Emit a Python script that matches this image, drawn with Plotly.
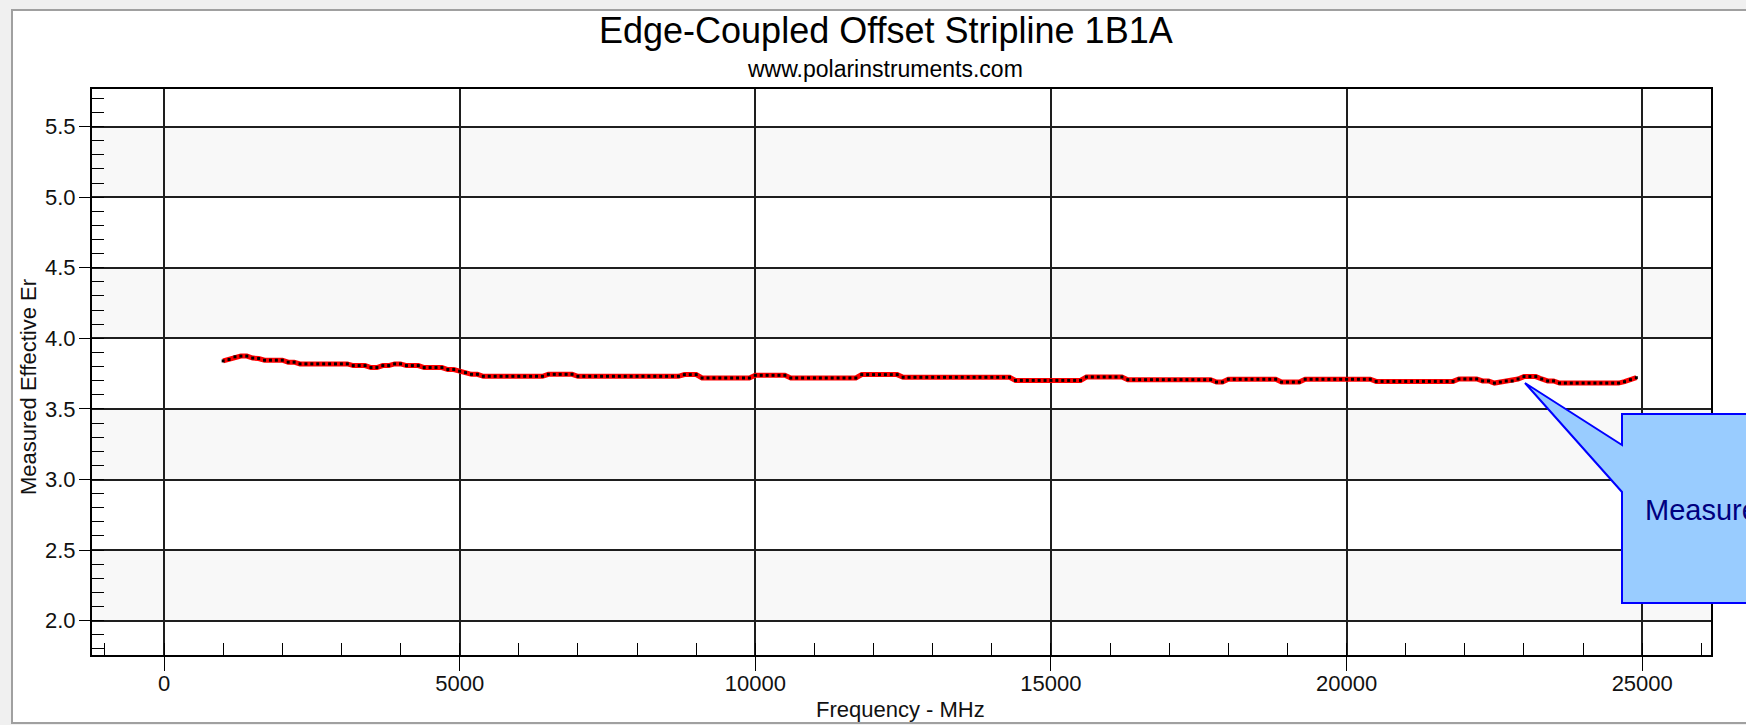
import plotly.graph_objects as go

# ---------------- data ----------------
freq_mhz = list(range(1000, 25000, 100))  # measurement sweep points (1000 .. 24900 MHz)

er_eff = [
    3.840, 3.850, 3.869, 3.874, 3.874, 3.860, 3.857, 3.845, 3.845, 3.845,   # 1000-1900
    3.845, 3.831, 3.831, 3.819, 3.819, 3.819, 3.819, 3.819, 3.819, 3.819,   # 2000-2900
    3.819, 3.819, 3.807, 3.807, 3.807, 3.793, 3.793, 3.807, 3.807, 3.819,   # 3000-3900
    3.819, 3.807, 3.807, 3.807, 3.793, 3.793, 3.793, 3.793, 3.779, 3.779,   # 4000-4900
    3.767, 3.757, 3.745, 3.745, 3.731, 3.731, 3.731, 3.731, 3.731, 3.731,   # 5000-5900
    3.731, 3.731, 3.731, 3.731, 3.731, 3.745, 3.745, 3.745, 3.745, 3.745,   # 6000-6900
    3.731, 3.731, 3.731, 3.731, 3.731, 3.731, 3.731, 3.731, 3.731, 3.731,   # 7000-7900
    3.731, 3.731, 3.731, 3.731, 3.731, 3.731, 3.731, 3.731, 3.743, 3.743,   # 8000-8900
    3.743, 3.719, 3.719, 3.719, 3.719, 3.719, 3.719, 3.719, 3.719, 3.719,   # 9000-9900
    3.738, 3.738, 3.738, 3.738, 3.738, 3.738, 3.719, 3.719, 3.719, 3.719,   # 10000-10900
    3.719, 3.719, 3.719, 3.719, 3.719, 3.719, 3.719, 3.719, 3.743, 3.743,   # 11000-11900
    3.743, 3.743, 3.743, 3.743, 3.743, 3.724, 3.724, 3.724, 3.724, 3.724,   # 12000-12900
    3.724, 3.724, 3.724, 3.724, 3.724, 3.724, 3.724, 3.724, 3.724, 3.724,   # 13000-13900
    3.724, 3.724, 3.724, 3.724, 3.702, 3.702, 3.702, 3.702, 3.702, 3.702,   # 14000-14900
    3.702, 3.702, 3.702, 3.702, 3.702, 3.702, 3.726, 3.726, 3.726, 3.726,   # 15000-15900
    3.726, 3.726, 3.726, 3.707, 3.707, 3.707, 3.707, 3.707, 3.707, 3.707,   # 16000-16900
    3.707, 3.707, 3.707, 3.707, 3.707, 3.707, 3.707, 3.707, 3.690, 3.690,   # 17000-17900
    3.710, 3.710, 3.710, 3.710, 3.710, 3.710, 3.710, 3.710, 3.710, 3.690,   # 18000-18900
    3.690, 3.690, 3.690, 3.710, 3.710, 3.710, 3.710, 3.710, 3.710, 3.710,   # 19000-19900
    3.710, 3.710, 3.710, 3.710, 3.710, 3.695, 3.695, 3.695, 3.695, 3.695,   # 20000-20900
    3.695, 3.695, 3.695, 3.695, 3.695, 3.695, 3.695, 3.695, 3.695, 3.712,   # 21000-21900
    3.712, 3.712, 3.712, 3.698, 3.698, 3.683, 3.690, 3.698, 3.698, 3.712,   # 22000-22900
    3.729, 3.729, 3.729, 3.712, 3.698, 3.698, 3.683, 3.683, 3.683, 3.683,   # 23000-23900
    3.683, 3.683, 3.683, 3.683, 3.683, 3.683, 3.683, 3.693, 3.707, 3.721,   # 24000-24900
]

x_range = [-1218, 26163]
y_range = [1.757, 5.766]
band_ranges = [(2.0, 2.5), (3.0, 3.5), (4.0, 4.5), (5.0, 5.5)]

title_text = "Edge-Coupled Offset Stripline 1B1A"
subtitle_text = "www.polarinstruments.com"
x_title = "Frequency - MHz"
y_title = "Measured Effective Er"
callout_text = "Measured Effective Er"

# ---------------- layout geometry (pixels) ----------------
W, H = 1746, 725
PL, PR, PT, PB = 92, 1711, 89, 655   # plot area edges


def px(x):
    return (x - PL) / (PR - PL)


def py(y):
    return (PB - y) / (PB - PT)


FONT = "Liberation Sans, Arial, sans-serif"

fig = go.Figure()
fig.add_trace(go.Scatter(
    x=freq_mhz, y=er_eff, mode="lines+markers",
    line=dict(color="#ff0000", width=5),
    marker=dict(symbol="square", size=3, color="black", line=dict(width=0)),
    hoverinfo="x+y", showlegend=False,
))

shapes = []
# outer white panel with grey frame
shapes.append(dict(type="rect", xref="paper", yref="paper",
                   x0=px(12), x1=px(1762), y0=py(723), y1=py(10),
                   fillcolor="white", line=dict(color="#a0a0a0", width=2),
                   layer="below"))
# alternating light grey bands
for lo, hi in band_ranges:
    shapes.append(dict(type="rect", xref="x", yref="y",
                       x0=x_range[0], x1=x_range[1], y0=lo, y1=hi,
                       fillcolor="#f8f8f8", line=dict(width=0), layer="below"))

# callout box with pointer
tip = (1525, 383)
bx0, bx1, by0, by1 = 1622, 1800, 414, 603
pu, pl_ = 445, 492
pts = [tip, (bx0, pu), (bx0, by0), (bx1, by0), (bx1, by1), (bx0, by1), (bx0, pl_)]
path = "M " + " L ".join(f"{px(a):.5f},{py(b):.5f}" for a, b in pts) + " Z"
shapes.append(dict(type="path", xref="paper", yref="paper", path=path,
                   fillcolor="#99ccff", line=dict(color="#0000ff", width=2),
                   layer="above"))

annotations = [
    dict(text=title_text, xref="paper", yref="paper", x=px(886), y=py(31),
         xanchor="center", yanchor="middle", showarrow=False,
         font=dict(family=FONT, size=36, color="black")),
    dict(text=subtitle_text, xref="paper", yref="paper", x=px(885), y=py(69),
         xanchor="center", yanchor="middle", showarrow=False,
         font=dict(family=FONT, size=23, color="black")),
    dict(text=x_title, xref="paper", yref="paper", x=px(900), y=py(709),
         xanchor="center", yanchor="middle", showarrow=False,
         font=dict(family=FONT, size=22, color="#111111")),
    dict(text=y_title, xref="paper", yref="paper", x=px(28), y=py(387),
         xanchor="center", yanchor="middle", showarrow=False, textangle=-90,
         font=dict(family=FONT, size=22, color="#111111")),
    dict(text=callout_text, xref="paper", yref="paper", x=px(1643), y=py(510),
         xanchor="left", yanchor="middle", showarrow=False,
         font=dict(family=FONT, size=29, color="#000080")),
]

axis_common = dict(
    showgrid=True, gridcolor="#1e1e1e", gridwidth=1.5,
    zeroline=False, showline=True, linecolor="black", linewidth=2, mirror=True,
    ticks="outside", tickcolor="black", tickwidth=1,
    tickfont=dict(family=FONT, size=22, color="#111111"),
)

fig.update_layout(
    width=W, height=H,
    margin=dict(l=PL, r=W - PR, t=PT, b=H - PB, pad=0),
    paper_bgcolor="#f0f0f0", plot_bgcolor="rgba(0,0,0,0)",
    shapes=shapes, annotations=annotations,
    xaxis=dict(axis_common, range=x_range, tickmode="linear", tick0=0, dtick=5000,
               tickformat="d", ticklen=14, ticklabelstandoff=-6,
               minor=dict(ticks="inside", ticklen=12, tickcolor="black", tickwidth=1,
                          tick0=0, dtick=1000, showgrid=False)),
    yaxis=dict(axis_common, range=y_range, tickmode="linear", tick0=2.0, dtick=0.5,
               tickformat=".1f", ticklen=11, ticklabelstandoff=-1,
               minor=dict(ticks="inside", ticklen=12, tickcolor="black", tickwidth=1,
                          tick0=2.0, dtick=0.1, showgrid=False)),
    showlegend=False,
)

fig.write_html("out.html", config={"displayModeBar": False},
               post_script="document.body.style.margin='0';document.body.style.overflow='hidden';")
